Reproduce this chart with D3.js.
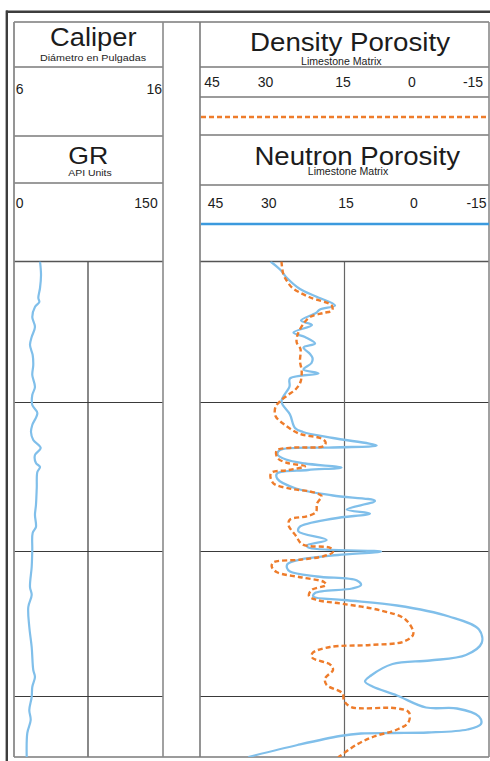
<!DOCTYPE html>
<html><head><meta charset="utf-8">
<script src="https://cdn.jsdelivr.net/npm/d3@7/dist/d3.min.js"></script>
<style>
html,body{margin:0;padding:0;background:#fff;}
svg{display:block;}
text{font-family:"Liberation Sans",Arial,Helvetica,sans-serif;fill:#1c1c1c;}
</style>
</head><body>
<svg id="chart" width="490" height="761"></svg>
<script>
// ---------- DATA ----------
const porosityTicks = [45, 30, 15, 0, -15];
const caliperTicks = [6, 16];
const grTicks = [0, 150];
const gridDepths = [141, 290, 435];

const grDepth = [0,13.5,26.5,36.5,40.5,45.5,55.5,65.5,75.5,83.5,93.5,103.5,113.5,125.5,133.5,143.5,151.5,163.5,170.5,178.5,186.5,193.5,201.5,205.5,210.5,226.5,243.5,253.5,265.5,271.5,288.5,305.5,325.5,333.5,345.5,365.5,385.5,408.5,415.5,425.5,435.5,448.5,458.5,471.5,495.5];
const grValue = [26.2,27.2,26.2,24.5,25.5,21.1,18.4,21.1,17.8,16.1,18.8,19.4,18.4,21.1,18.4,18.4,23.5,18.4,17.1,19.4,26.9,21.1,22.1,26.2,23.5,22.9,22.1,21.1,22.1,18.8,18.4,17.8,16.1,17.8,14.4,15.4,17.8,19.4,21.1,18.4,17.8,15.4,16.8,13.4,12.8];

const neutronDepth = [0,8,16.5,27.5,35,44,48,51.5,59,63.5,71,75.5,82,86,92.5,96.5,101.5,108,112,117,125,140,153,166.5,170.5,176.5,184,186,188.5,193,198,202,206,208.5,212,217.5,227,234,239.5,248,252,257,265.5,270,278.5,284,286.5,290,293.5,298,302.5,306.5,310,315,319,323.5,327,331.5,335,338.5,344,355,368,381.5,393.5,399,402.5,414,420,425,434,446,447,455,462.5,468,471,471.5,472,474.5,483.5,495.5];
const neutronValue = [30.36,28.39,26.94,24.24,20.92,16.97,20.09,20.92,24.03,21.75,25.59,23.20,21.12,23.51,22.16,21.64,21.85,23.51,20.40,26.32,26.42,28.08,26.32,25.28,23.62,17.39,8.32,17.39,28.39,28.91,27.15,23.20,15.62,22.58,29.01,28.91,25.07,17.39,8.67,14.54,9.71,17.18,24.34,24.55,18.70,22.85,22.16,7.42,16.35,24.24,26.83,26.94,26.32,20.71,12.41,11.57,13.44,21.12,21.48,15.10,4.10,-6.70,-12.92,-13.48,-10.22,-2.75,5.03,9.50,10.74,9.19,4.10,-1.92,-8.36,-12.92,-13.34,-10.54,-2.34,4.93,11.57,15.93,24.76,34.97];

const densityDepth = [0,12.5,20.5,26.5,35.5,44,49,51.5,55,61.5,73.5,81,87.5,100,109.5,120.5,128,133.5,139.8,145.5,154.5,163.5,172.5,176.5,180.5,184.5,186.2,189,196.5,201.5,204.7,208.5,211.7,221.5,227.5,230,234.5,242,250.5,254.8,258,263.5,274.5,283,286.5,290.5,294.8,298.2,301,305,310.5,316,320.5,323.5,328.5,334.5,338.5,342.3,349,358,372.5,380,383.5,385.5,391.5,396,403.3,408.5,417,423.5,431.8,439,445.5,446.7,451,461,468.5,475,483.5,495.8];
const densityValue = [28.08,27.71,26.83,25.80,22.37,17.66,17.60,19.40,21.96,23.41,24.76,24.92,24.14,24.24,23.89,24.14,25.17,26.73,28.39,29.33,29.33,27.35,24.24,20.09,18.94,19.26,25.90,29.08,28.91,26.83,23.20,26.52,30.26,29.84,25.90,22.16,19.78,20.71,20.92,22.85,26.32,26.63,25.07,23.72,17.91,17.39,19.46,24.24,29.78,30.11,29.12,23.82,19.26,18.84,21.85,22.37,20.71,15.42,7.42,2.34,0.72,2.65,9.71,18.01,21.64,21.75,17.91,17.39,19.05,18.70,15.42,15.10,13.65,4.31,1.61,1.75,4.31,8.88,12.61,16.29];

// ---------- LAYOUT ----------
const L = {left:14, leftR:163, gapR:200, right:489, top:22, dataTop:261.5, bottom:757};
const BLUE = "#80bfea", BLUE_HDR = "#3b9ade", ORANGE = "#ee7c2b";
const LINE = "#7a7a7a", GRID = "#3a3a3a";

const svg = d3.select("#chart");

const y = d3.scaleLinear().domain([0, 495.5]).range([L.dataTop, L.bottom]);
const xPor = d3.scaleLinear().domain([45, -15]).range([L.gapR, L.right]);
const xGR = d3.scaleLinear().domain([0, 150]).range([L.left, L.leftR]);
const xCal = d3.scaleLinear().domain([6, 16]).range([L.left, L.leftR]);
const xMidLeft = (L.left + L.leftR) / 2 - 0.5;

// outer thick frame (top and left)
svg.append("line").attr("x1",6).attr("y1",11.7).attr("x2",490).attr("y2",11.7)
  .attr("stroke","#3d3d3d").attr("stroke-width",2.4);
svg.append("line").attr("x1",6.8).attr("y1",10.5).attr("x2",6.8).attr("y2",761)
  .attr("stroke","#3d3d3d").attr("stroke-width",2.4);

function hline(x1, x2, yy, color, w) {
  svg.append("line").attr("x1",x1).attr("x2",x2).attr("y1",yy).attr("y2",yy)
    .attr("stroke",color).attr("stroke-width",w);
}
function vline(xx, y1, y2, color, w) {
  svg.append("line").attr("x1",xx).attr("x2",xx).attr("y1",y1).attr("y2",y2)
    .attr("stroke",color).attr("stroke-width",w);
}

// data-area grid
gridDepths.forEach(d => {
  hline(L.left, L.leftR, y(d), GRID, 1.2);
  hline(L.gapR, L.right, y(d), GRID, 1.2);
});
vline(xMidLeft, L.dataTop, L.bottom, GRID, 1.2);
vline(xPor(15), L.dataTop, L.bottom, "#666", 1.2);

// header lines
hline(L.left, L.right, L.top, LINE, 1.4);
hline(L.left, L.right, L.bottom, LINE, 1.6);
hline(L.left, L.leftR, 67, LINE, 1.4);
hline(L.left, L.leftR, 136, LINE, 1.4);
hline(L.left, L.leftR, 183, LINE, 1.4);
hline(L.left, L.leftR, L.dataTop, "#555", 1.4);
hline(L.gapR, L.right, 67, LINE, 1.4);
hline(L.gapR, L.right, 97, LINE, 1.4);
hline(L.gapR, L.right, 135, LINE, 1.4);
hline(L.gapR, L.right, 185, LINE, 1.4);
hline(L.gapR, L.right, L.dataTop, "#555", 1.4);
vline(L.left, L.top, L.bottom, "#8a8a8a", 1.8);
vline(L.leftR, L.top, L.bottom, "#8a8a8a", 1.6);
vline(L.gapR, L.top, L.bottom, "#7a7a7a", 1.6);
vline(L.right, L.top, L.bottom, "#8a8a8a", 1.6);

// header legend samples
svg.append("line").attr("x1",L.gapR+1).attr("x2",L.right).attr("y1",117).attr("y2",117)
  .attr("stroke",ORANGE).attr("stroke-width",2.6).attr("stroke-dasharray","5,3");
svg.append("line").attr("x1",L.gapR+1).attr("x2",L.right).attr("y1",224).attr("y2",224)
  .attr("stroke",BLUE_HDR).attr("stroke-width",2.6);

// titles
function txt(s, x, yy, size, len, anchor) {
  const t = svg.append("text").attr("x",x).attr("y",yy).attr("font-size",size)
    .attr("text-anchor",anchor || "middle").text(s);
  if (len) t.attr("textLength",len).attr("lengthAdjust","spacingAndGlyphs");
  return t;
}
txt("Caliper", 93.3, 45.5, 25, 86.5);
txt("Diámetro en Pulgadas", 93, 60.5, 9.5, 106);
txt("GR", 88.3, 164, 24, 40);
txt("API Units", 90, 175.5, 9.5, 43.5);
txt("Density Porosity", 350, 50.5, 25.5, 200);
txt("Limestone Matrix", 341.3, 64.5, 10, 80.5);
txt("Neutron Porosity", 357.2, 164.5, 25.5, 205.5);
txt("Limestone Matrix", 348, 174.5, 10, 80.5);

// scale labels via axes
function scaleLabels(scale, ticks, yy, nudges) {
  const g = svg.append("g").attr("transform", `translate(0,${yy})`)
    .call(d3.axisTop(scale).tickValues(ticks).tickSize(0).tickPadding(0).tickFormat(d => String(d)));
  g.select(".domain").remove();
  g.selectAll("text").attr("font-size",14).attr("fill","#1c1c1c")
    .attr("font-family",'"Liberation Sans",Arial,sans-serif')
    .attr("dy",0).attr("text-anchor","middle")
    .attr("dx",(d,i) => nudges[i]);
}
scaleLabels(xCal, caliperTicks, 94, [5.2, -9.2]);
scaleLabels(xGR, grTicks, 208, [5.2, -17.5]);
scaleLabels(xPor, porosityTicks, 87.3, [11.6, -7.25, -2, -5.25, -16.5]);
scaleLabels(xPor, porosityTicks, 208.3, [15, -4, 1, -3.25, -13]);

// curves
svg.append("defs").append("clipPath").attr("id","dataClip")
  .append("rect").attr("x",L.left).attr("y",L.dataTop).attr("width",L.right-L.left).attr("height",L.bottom-L.dataTop);

const curve = d3.curveCatmullRom.alpha(0.5);
const gCurves = svg.append("g").attr("clip-path","url(#dataClip)");

const grLine = d3.line().curve(curve).x((d,i) => xGR(grValue[i])).y(d => y(d));
gCurves.append("path").attr("d", grLine(grDepth)).attr("fill","none")
  .attr("stroke",BLUE).attr("stroke-width",2.2).attr("stroke-linejoin","round");

const nLine = d3.line().curve(curve).x((d,i) => xPor(neutronValue[i])).y(d => y(d));
gCurves.append("path").attr("d", nLine(neutronDepth)).attr("fill","none")
  .attr("stroke",BLUE).attr("stroke-width",2.3).attr("stroke-linejoin","round");

const dLine = d3.line().curve(curve).x((d,i) => xPor(densityValue[i])).y(d => y(d));
gCurves.append("path").attr("d", dLine(densityDepth)).attr("fill","none")
  .attr("stroke",ORANGE).attr("stroke-width",2.4).attr("stroke-dasharray","5,3");
</script>
</body></html>
